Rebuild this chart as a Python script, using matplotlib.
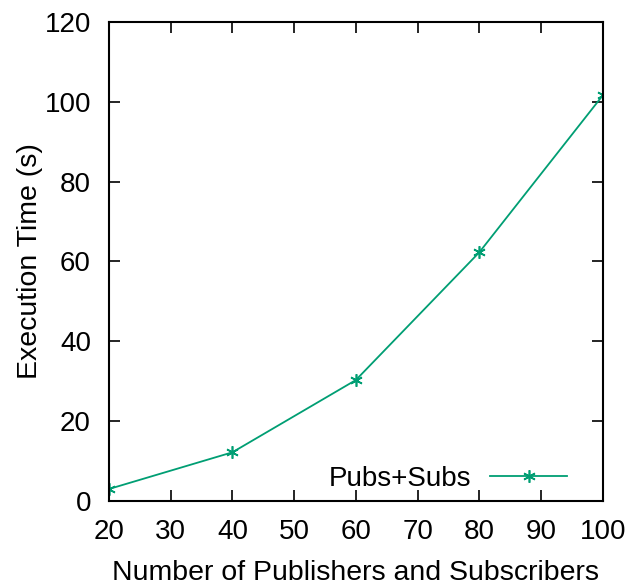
import matplotlib
matplotlib.use("Agg")
import matplotlib.pyplot as plt

# Execution time vs. number of publishers/subscribers
n_clients = [20, 40, 60, 80, 100]
exec_time = [3.0, 12.2, 30.3, 62.3, 101.6]
x_ticks = [20, 30, 40, 50, 60, 70, 80, 90, 100]
y_ticks = [0, 20, 40, 60, 80, 100, 120]

plt.rcParams["font.family"] = ["Liberation Sans", "DejaVu Sans"]
FS = 20

fig = plt.figure(figsize=(6.33, 5.88), dpi=100)
ax = fig.add_axes([0.1722, 0.148, 0.780, 0.8146])

ax.plot(n_clients, exec_time, color="#009e73", lw=1.3,
        marker=(6, 2, 0), ms=9, mew=1.2, label="Pubs+Subs")

ax.set_xlim(20, 100)
ax.set_ylim(0, 120)
ax.set_xticks(x_ticks)
ax.set_yticks(y_ticks)
ax.tick_params(direction="in", length=8, width=1.2, labelsize=FS,
               top=True, right=True)
ax.tick_params(axis="x", pad=13)
ax.tick_params(axis="y", pad=13)
for s in ax.spines.values():
    s.set_linewidth(1.5)

ax.set_xlabel("Number of Publishers and Subscribers", fontsize=20.5, labelpad=11)
ax.set_ylabel("Execution Time (s)", fontsize=20.5, labelpad=1)

ax.legend(loc="center right", bbox_to_anchor=(0.927, 0.046), frameon=False,
          fontsize=FS, markerfirst=False, borderpad=0, borderaxespad=0,
          handlelength=2.75, handletextpad=0.7)

fig.savefig("out.png", dpi=100)
